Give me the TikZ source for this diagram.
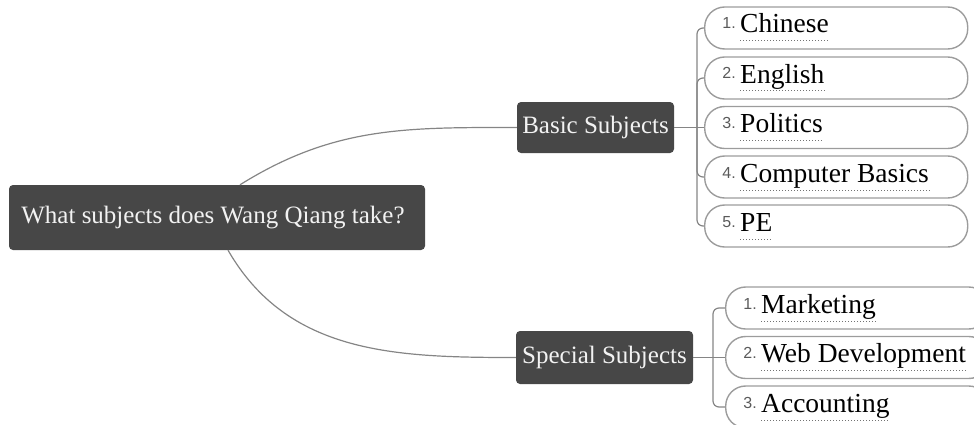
\documentclass[tikz,border=0pt]{standalone}
\usepackage{fontspec}
\setmainfont{Liberation Serif}
\newfontfamily\numfont{Liberation Sans}
\usetikzlibrary{calc, positioning}

\definecolor{topicgray}{HTML}{474747}
\definecolor{linkgray}{HTML}{858585}
\definecolor{leafgray}{HTML}{9C9C9C}
\definecolor{numgray}{HTML}{5A5A5A}

\tikzset{
	topic/.style={fill=topicgray, text=white!95!black, rounded corners=4pt, inner sep=0pt,
		font=\fontsize{25}{30}\selectfont},
	leaf/.style={draw=leafgray, line width=1.4pt, rounded corners=20pt, anchor=west,
		minimum width=263pt, minimum height=42pt},
	subj/.style={inner sep=0pt, anchor=base west, font=\fontsize{27.5}{32}\selectfont},
	num/.style={inner sep=0pt, anchor=base east, text=numgray, font=\numfont\fontsize{16}{18}\selectfont},
	link/.style={draw=linkgray, line width=1.2pt},
	uline/.style={draw=gray!90!black, line width=1pt, dotted},
}

% one subject leaf: name, position, number, text
\newcommand{\subjectleaf}[4]{%
	\node[leaf] (#1) at (#2) {};
	\node[subj] (#1 text) at ([xshift=36pt,yshift=-5pt]#1.west) {#4};
	\node[num] (#1 num) at ([xshift=-4pt,yshift=4pt]#1 text.base west) {#3};
	\draw[uline] ([yshift=-8pt]#1 text.base west) -- ([yshift=-8pt]#1 text.base east);
}

\begin{document}
\begin{tikzpicture}[x=1pt, y=1pt]
	\useasboundingbox (0,0) rectangle (974,424);
	\clip (0,0) rectangle (974,424);

	% topics
	\node[topic, minimum width=416pt, minimum height=65pt] (root) at (217,206.5) {What subjects does Wang Qiang take?\hspace*{8pt}};
	\node[topic, minimum width=157pt, minimum height=51pt] (basic) at (595.5,296.5) {Basic Subjects};
	\node[topic, minimum width=177pt, minimum height=53pt] (special) at (604.5,66.5) {Special Subjects};

	\draw[link] ([xshift=23pt]root.north) to[out=32, in=180] (basic.west);
	\draw[link] ([xshift=11pt]root.south) to[out=-60, in=180] (special.west);

	% basic subjects
	\subjectleaf{chinese}{704,396}{1.}{Chinese}
	\subjectleaf{english}{704,346}{2.}{English}
	\subjectleaf{politics}{704,296.5}{3.}{Politics}
	\subjectleaf{computer}{704,247}{4.}{Computer Basics}
	\subjectleaf{pe}{704,198}{5.}{PE}

	\coordinate (basic joint) at (697,296.5);
	\draw[link] (basic.east) -- (politics.west);
	\begin{scope}[rounded corners=6pt]
		\draw[link] (basic joint) |- (chinese.west);
		\draw[link] (basic joint) |- (english.west);
		\draw[link] (basic joint) |- (computer.west);
		\draw[link] (basic joint) |- (pe.west);
	\end{scope}

	% special subjects
	\subjectleaf{marketing}{725,116}{1.}{Marketing}
	\subjectleaf{web}{725,66.5}{2.}{Web Development}
	\subjectleaf{accounting}{725,17}{3.}{Accounting}

	\coordinate (special joint) at (713,66.5);
	\draw[link] (special.east) -- (web.west);
	\begin{scope}[rounded corners=6pt]
		\draw[link] (special joint) |- (marketing.west);
		\draw[link] (special joint) |- (accounting.west);
	\end{scope}
\end{tikzpicture}
\end{document}
